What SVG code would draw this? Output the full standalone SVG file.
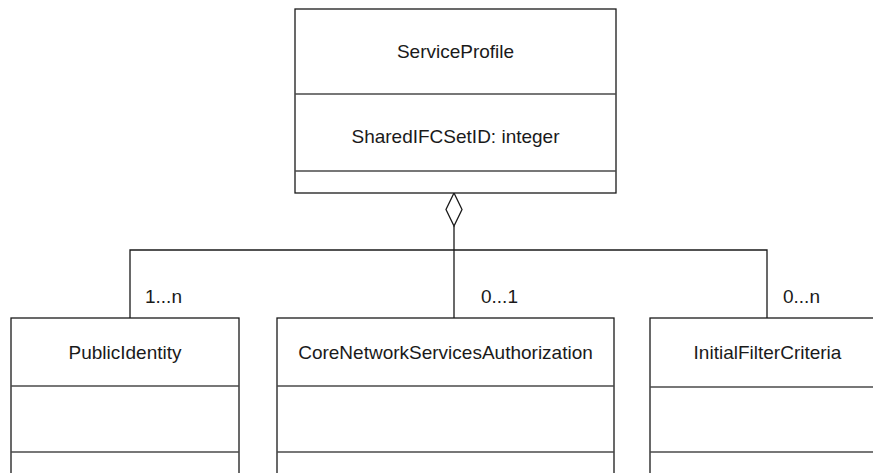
<svg xmlns="http://www.w3.org/2000/svg" width="873" height="473" viewBox="0 0 873 473">
<style>
.box{fill:#fff;stroke:#1a1a1a;stroke-width:1.3}
.sep{stroke:#4a4a4a;stroke-width:1.3;fill:none}
.t{font-family:"Liberation Sans",Arial,sans-serif;font-size:19px;fill:#1a1a1a;text-anchor:middle}
.m{font-family:"Liberation Sans",Arial,sans-serif;font-size:19px;fill:#1a1a1a}
.c{stroke:#1a1a1a;stroke-width:1.3;fill:none}
</style>
<rect width="873" height="473" fill="#fff"/>
<g id="connectors">
<polyline class="c" points="130,318 130,250 767,250 767,318"/>
<line class="c" x1="454" y1="226" x2="454" y2="318"/>
<polygon class="c" fill="#fff" points="454,193 462,209.5 454,226 446,209.5"/>
<text class="m" x="145" y="303">1...n</text>
<text class="m" x="481" y="303">0...1</text>
<text class="m" x="783" y="303">0...n</text>
</g>
<g id="ServiceProfile">
<rect class="box" x="295" y="9" width="321" height="184"/>
<line class="sep" x1="295" y1="94" x2="616" y2="94"/>
<line class="sep" x1="295" y1="171" x2="616" y2="171"/>
<text class="t" x="455.5" y="58">ServiceProfile</text>
<text class="t" x="455.5" y="143">SharedIFCSetID: integer</text>
</g>
<g id="PublicIdentity">
<rect class="box" x="11" y="318" width="228" height="170"/>
<line class="sep" x1="11" y1="386" x2="239" y2="386"/>
<line class="sep" x1="11" y1="452" x2="239" y2="452"/>
<text class="t" x="125" y="359">PublicIdentity</text>
</g>
<g id="CoreNetworkServicesAuthorization">
<rect class="box" x="277" y="318" width="337" height="170"/>
<line class="sep" x1="277" y1="386" x2="614" y2="386"/>
<line class="sep" x1="277" y1="452" x2="614" y2="452"/>
<text class="t" x="445.5" y="359">CoreNetworkServicesAuthorization</text>
</g>
<g id="InitialFilterCriteria">
<rect class="box" x="650" y="318" width="235" height="170"/>
<line class="sep" x1="650" y1="387" x2="885" y2="387"/>
<line class="sep" x1="650" y1="452" x2="885" y2="452"/>
<text class="t" x="767.5" y="359">InitialFilterCriteria</text>
</g>
</svg>
